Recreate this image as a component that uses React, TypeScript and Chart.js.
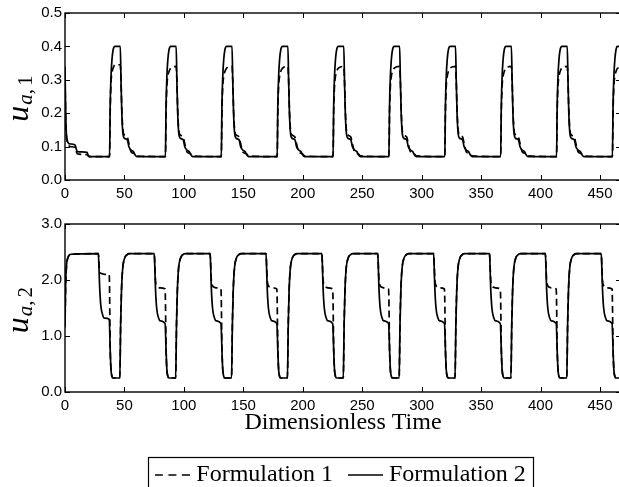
import React, { useEffect, useRef } from 'react';
import { Chart, registerables } from 'chart.js';

Chart.register(...registerables);

// ---------- data ----------
const X_MAX = 467.7;
const X_STEP = 50;
const SERIES_LABELS = ['Formulation 1', 'Formulation 2'];
const X_TITLE = 'Dimensionless Time';
const TOP_Y_LABEL = ['u', 'a', ',', '1'];
const BOTTOM_Y_LABEL = ['u', 'a', ',', '2'];
const TOP_Y_RANGE = [0, 0.5, 0.1];
const BOTTOM_Y_RANGE = [0, 3, 1];

// top panel (u_a,1)
const TOP_T = [
  0, 0.5, 1, 2, 3, 4, 8.5, 9.5, 10.5, 18.5, 19.5, 21,
  37.5, 38, 38.7, 39.5, 40.5, 42, 46.5, 47.1, 47.8, 48.7, 50, 52.5, 53.7, 55.5, 57.5, 59, 60.5,
  84.5, 85, 85.7, 86.5, 87.5, 89, 93.5, 94.1, 94.8, 95.7, 97, 99.5, 100.7, 102.5, 104.5, 106, 107.5,
  131.5, 132, 132.7, 133.5, 134.5, 136, 140.5, 141.1, 141.8, 142.7, 144, 146.5, 147.7, 149.5, 151.5, 153, 154.5,
  178.5, 179, 179.7, 180.5, 181.5, 183, 187.5, 188.1, 188.8, 189.7, 191, 193.5, 194.7, 196.5, 198.5, 200, 201.5,
  225.5, 226, 226.7, 227.5, 228.5, 230, 234.5, 235.1, 235.8, 236.7, 238, 240.5, 241.7, 243.5, 245.5, 247, 248.5,
  272.5, 273, 273.7, 274.5, 275.5, 277, 281.5, 282.1, 282.8, 283.7, 285, 287.5, 288.7, 290.5, 292.5, 294, 295.5,
  319.5, 320, 320.7, 321.5, 322.5, 324, 328.5, 329.1, 329.8, 330.7, 332, 334.5, 335.7, 337.5, 339.5, 341, 342.5,
  366.5, 367, 367.7, 368.5, 369.5, 371, 375.5, 376.1, 376.8, 377.7, 379, 381.5, 382.7, 384.5, 386.5, 388, 389.5,
  413.5, 414, 414.7, 415.5, 416.5, 418, 422.5, 423.1, 423.8, 424.7, 426, 428.5, 429.7, 431.5, 433.5, 435, 436.5,
  460.5, 461, 461.7, 462.5, 463.5, 465, 468,
];
const TOP_F2 = [
  0.34, 0.22, 0.15, 0.118, 0.11, 0.108, 0.105, 0.092, 0.085, 0.083, 0.074, 0.07,
  0.07, 0.22, 0.31, 0.36, 0.39, 0.4, 0.4, 0.3, 0.2, 0.14, 0.125, 0.12, 0.1, 0.09, 0.085, 0.075, 0.07,
  0.07, 0.22, 0.31, 0.36, 0.39, 0.4, 0.4, 0.3, 0.2, 0.14, 0.125, 0.12, 0.1, 0.09, 0.085, 0.075, 0.07,
  0.07, 0.22, 0.31, 0.36, 0.39, 0.4, 0.4, 0.3, 0.2, 0.14, 0.125, 0.12, 0.1, 0.09, 0.085, 0.075, 0.07,
  0.07, 0.22, 0.31, 0.36, 0.39, 0.4, 0.4, 0.3, 0.2, 0.14, 0.125, 0.12, 0.1, 0.09, 0.085, 0.075, 0.07,
  0.07, 0.22, 0.31, 0.36, 0.39, 0.4, 0.4, 0.3, 0.2, 0.14, 0.125, 0.12, 0.1, 0.09, 0.085, 0.075, 0.07,
  0.07, 0.22, 0.31, 0.36, 0.39, 0.4, 0.4, 0.3, 0.2, 0.14, 0.125, 0.12, 0.1, 0.09, 0.085, 0.075, 0.07,
  0.07, 0.22, 0.31, 0.36, 0.39, 0.4, 0.4, 0.3, 0.2, 0.14, 0.125, 0.12, 0.1, 0.09, 0.085, 0.075, 0.07,
  0.07, 0.22, 0.31, 0.36, 0.39, 0.4, 0.4, 0.3, 0.2, 0.14, 0.125, 0.12, 0.1, 0.09, 0.085, 0.075, 0.07,
  0.07, 0.22, 0.31, 0.36, 0.39, 0.4, 0.4, 0.3, 0.2, 0.14, 0.125, 0.12, 0.1, 0.09, 0.085, 0.075, 0.07,
  0.07, 0.22, 0.31, 0.36, 0.39, 0.4, 0.4,
];
const TOP_F1 = [
  0.3, 0.2, 0.14, 0.112, 0.105, 0.1, 0.098, 0.085, 0.078, 0.076, 0.072, 0.07,
  0.07, 0.2, 0.29, 0.32, 0.335, 0.345, 0.345, 0.3, 0.21, 0.15, 0.135, 0.128, 0.11, 0.085, 0.08, 0.077, 0.072,
  0.07, 0.2, 0.28, 0.31, 0.325, 0.335, 0.34, 0.3, 0.21, 0.15, 0.135, 0.128, 0.11, 0.085, 0.08, 0.077, 0.072,
  0.07, 0.2, 0.28, 0.31, 0.325, 0.335, 0.34, 0.3, 0.21, 0.15, 0.135, 0.128, 0.11, 0.085, 0.08, 0.077, 0.072,
  0.07, 0.2, 0.28, 0.31, 0.325, 0.335, 0.34, 0.3, 0.21, 0.15, 0.135, 0.128, 0.11, 0.085, 0.08, 0.077, 0.072,
  0.07, 0.2, 0.28, 0.31, 0.325, 0.335, 0.34, 0.3, 0.21, 0.15, 0.135, 0.128, 0.11, 0.085, 0.08, 0.077, 0.072,
  0.07, 0.2, 0.28, 0.31, 0.325, 0.335, 0.34, 0.3, 0.21, 0.15, 0.135, 0.128, 0.11, 0.085, 0.08, 0.077, 0.072,
  0.07, 0.2, 0.28, 0.31, 0.325, 0.335, 0.34, 0.3, 0.21, 0.15, 0.135, 0.128, 0.11, 0.085, 0.08, 0.077, 0.072,
  0.07, 0.2, 0.28, 0.31, 0.325, 0.335, 0.34, 0.3, 0.21, 0.15, 0.135, 0.128, 0.11, 0.085, 0.08, 0.077, 0.072,
  0.07, 0.2, 0.28, 0.31, 0.325, 0.335, 0.34, 0.3, 0.21, 0.15, 0.135, 0.128, 0.11, 0.085, 0.08, 0.077, 0.072,
  0.07, 0.2, 0.28, 0.31, 0.325, 0.335, 0.335,
];

// bottom panel (u_a,2)
const BOT_T = [
  0, 0.5, 1.2, 2.5, 5,
  28.1, 28.6, 29.1, 30.1, 31.6, 33.1, 37.2, 38.1, 38.7, 39.5, 40.5, 46.1, 46.8, 47.5, 48.5, 50, 52, 54.5,
  75.1, 75.6, 76.1, 77.1, 78.6, 80.1, 84.2, 85.1, 85.7, 86.5, 87.5, 93.1, 93.8, 94.5, 95.5, 97, 99, 101.5,
  122.1, 122.6, 123.1, 124.1, 125.6, 127.1, 131.2, 132.1, 132.7, 133.5, 134.5, 140.1, 140.8, 141.5, 142.5, 144, 146, 148.5,
  169.1, 169.6, 170.1, 171.1, 172.6, 174.1, 178.2, 179.1, 179.7, 180.5, 181.5, 187.1, 187.8, 188.5, 189.5, 191, 193, 195.5,
  216.1, 216.6, 217.1, 218.1, 219.6, 221.1, 225.2, 226.1, 226.7, 227.5, 228.5, 234.1, 234.8, 235.5, 236.5, 238, 240, 242.5,
  263.1, 263.6, 264.1, 265.1, 266.6, 268.1, 272.2, 273.1, 273.7, 274.5, 275.5, 281.1, 281.8, 282.5, 283.5, 285, 287, 289.5,
  310.1, 310.6, 311.1, 312.1, 313.6, 315.1, 319.2, 320.1, 320.7, 321.5, 322.5, 328.1, 328.8, 329.5, 330.5, 332, 334, 336.5,
  357.1, 357.6, 358.1, 359.1, 360.6, 362.1, 366.2, 367.1, 367.7, 368.5, 369.5, 375.1, 375.8, 376.5, 377.5, 379, 381, 383.5,
  404.1, 404.6, 405.1, 406.1, 407.6, 409.1, 413.2, 414.1, 414.7, 415.5, 416.5, 422.1, 422.8, 423.5, 424.5, 426, 428, 430.5,
  451.1, 451.6, 452.1, 453.1, 454.6, 456.1, 460.2, 461.1, 461.7, 462.5, 463.5, 468,
];
const BOT_F2 = [
  1.2, 1.9, 2.25, 2.4, 2.46,
  2.47, 2.2, 1.9, 1.55, 1.38, 1.32, 1.3, 0.7, 0.4, 0.28, 0.25, 0.25, 1.2, 1.8, 2.2, 2.38, 2.45, 2.47,
  2.47, 2.2, 1.85, 1.5, 1.33, 1.27, 1.22, 0.7, 0.4, 0.28, 0.25, 0.25, 1.2, 1.8, 2.2, 2.38, 2.45, 2.47,
  2.47, 2.2, 1.85, 1.5, 1.33, 1.27, 1.22, 0.7, 0.4, 0.28, 0.25, 0.25, 1.2, 1.8, 2.2, 2.38, 2.45, 2.47,
  2.47, 2.2, 1.85, 1.5, 1.33, 1.27, 1.22, 0.7, 0.4, 0.28, 0.25, 0.25, 1.2, 1.8, 2.2, 2.38, 2.45, 2.47,
  2.47, 2.2, 1.85, 1.5, 1.33, 1.27, 1.22, 0.7, 0.4, 0.28, 0.25, 0.25, 1.2, 1.8, 2.2, 2.38, 2.45, 2.47,
  2.47, 2.2, 1.85, 1.5, 1.33, 1.27, 1.22, 0.7, 0.4, 0.28, 0.25, 0.25, 1.2, 1.8, 2.2, 2.38, 2.45, 2.47,
  2.47, 2.2, 1.85, 1.5, 1.33, 1.27, 1.22, 0.7, 0.4, 0.28, 0.25, 0.25, 1.2, 1.8, 2.2, 2.38, 2.45, 2.47,
  2.47, 2.2, 1.85, 1.5, 1.33, 1.27, 1.22, 0.7, 0.4, 0.28, 0.25, 0.25, 1.2, 1.8, 2.2, 2.38, 2.45, 2.47,
  2.47, 2.2, 1.85, 1.5, 1.33, 1.27, 1.22, 0.7, 0.4, 0.28, 0.25, 0.25, 1.2, 1.8, 2.2, 2.38, 2.45, 2.47,
  2.47, 2.2, 1.85, 1.5, 1.33, 1.27, 1.22, 0.7, 0.4, 0.28, 0.25, 0.25,
];
const BOT_F1 = [
  1.15, 1.85, 2.22, 2.4, 2.46,
  2.47, 2.3, 2.15, 2.12, 2.11, 2.1, 2.1, 0.7, 0.4, 0.28, 0.25, 0.25, 1.2, 1.8, 2.2, 2.38, 2.45, 2.47,
  2.47, 2.25, 2.0, 1.9, 1.87, 1.86, 1.84, 0.7, 0.4, 0.28, 0.25, 0.25, 1.2, 1.8, 2.2, 2.38, 2.45, 2.47,
  2.47, 2.25, 2.0, 1.9, 1.87, 1.86, 1.84, 0.7, 0.4, 0.28, 0.25, 0.25, 1.2, 1.8, 2.2, 2.38, 2.45, 2.47,
  2.47, 2.25, 2.0, 1.9, 1.87, 1.86, 1.84, 0.7, 0.4, 0.28, 0.25, 0.25, 1.2, 1.8, 2.2, 2.38, 2.45, 2.47,
  2.47, 2.25, 2.0, 1.9, 1.87, 1.86, 1.84, 0.7, 0.4, 0.28, 0.25, 0.25, 1.2, 1.8, 2.2, 2.38, 2.45, 2.47,
  2.47, 2.25, 2.0, 1.9, 1.87, 1.86, 1.84, 0.7, 0.4, 0.28, 0.25, 0.25, 1.2, 1.8, 2.2, 2.38, 2.45, 2.47,
  2.47, 2.25, 2.0, 1.9, 1.87, 1.86, 1.84, 0.7, 0.4, 0.28, 0.25, 0.25, 1.2, 1.8, 2.2, 2.38, 2.45, 2.47,
  2.47, 2.25, 2.0, 1.9, 1.87, 1.86, 1.84, 0.7, 0.4, 0.28, 0.25, 0.25, 1.2, 1.8, 2.2, 2.38, 2.45, 2.47,
  2.47, 2.25, 2.0, 1.9, 1.87, 1.86, 1.84, 0.7, 0.4, 0.28, 0.25, 0.25, 1.2, 1.8, 2.2, 2.38, 2.45, 2.47,
  2.47, 2.25, 2.0, 1.9, 1.87, 1.86, 1.84, 0.7, 0.4, 0.28, 0.25, 0.25,
];

// ---------- styling ----------
const SANS = '"Liberation Sans", Arial, sans-serif';
const SERIF = '"Liberation Serif", "Times New Roman", serif';
const DASH = [7, 4];
const LEGEND_DASH = [8, 5.5];

// legend line sample drawn as an image point style
function makeSample(dashed: boolean): HTMLCanvasElement {
  const c = document.createElement('canvas');
  c.width = 35;
  c.height = 4;
  const g = c.getContext('2d') as CanvasRenderingContext2D;
  g.strokeStyle = '#000';
  g.lineWidth = 1.5;
  g.setLineDash(dashed ? LEGEND_DASH : []);
  g.beginPath();
  g.moveTo(0, 2);
  g.lineTo(35, 2);
  g.stroke();
  return c;
}

const framePlugin = {
  id: 'frame',
  afterDatasetsDraw(chart: any, _args: any, opts: any) {
    const { ctx, chartArea: a, scales } = chart;
    const xs = scales.x;
    const ys = scales.y;
    ctx.save();
    ctx.strokeStyle = '#000';
    ctx.lineWidth = 1.4;
    ctx.strokeRect(a.left, a.top, a.right - a.left, a.bottom - a.top);
    const L = 5;
    ctx.beginPath();
    xs.ticks.forEach((t: any) => {
      const p = Math.round(xs.getPixelForValue(t.value)) + 0.5;
      ctx.moveTo(p, a.bottom);
      ctx.lineTo(p, a.bottom - L);
      ctx.moveTo(p, a.top);
      ctx.lineTo(p, a.top + L);
    });
    ys.ticks.forEach((t: any) => {
      const p = Math.round(ys.getPixelForValue(t.value)) + 0.5;
      ctx.moveTo(a.left, p);
      ctx.lineTo(a.left + L, p);
      ctx.moveTo(a.right, p);
      ctx.lineTo(a.right - L, p);
    });
    ctx.lineWidth = 1;
    ctx.stroke();

    // y-axis label with subscript
    const lab: string[] = opts.label;
    if (lab) {
      const cy = (a.top + a.bottom) / 2 + 2;
      ctx.translate(28, cy);
      ctx.rotate(-Math.PI / 2);
      ctx.fillStyle = '#000';
      ctx.textBaseline = 'alphabetic';
      ctx.textAlign = 'left';
      const fMain = 'italic 32px ' + SERIF;
      const fSubI = 'italic 21px ' + SERIF;
      const fSub = '21px ' + SERIF;
      ctx.font = fMain;
      const w0 = ctx.measureText(lab[0]).width;
      ctx.font = fSubI;
      const w1 = ctx.measureText(lab[1]).width;
      ctx.font = fSub;
      const w2 = ctx.measureText(lab[2]).width;
      const w3 = ctx.measureText(lab[3]).width;
      const gap = 3;
      const total = w0 + 1 + w1 + w2 + gap + w3;
      let x = -total / 2;
      ctx.font = fMain;
      ctx.fillText(lab[0], x, 0);
      x += w0 + 1;
      ctx.font = fSubI;
      ctx.fillText(lab[1], x, 4);
      x += w1;
      ctx.font = fSub;
      ctx.fillText(lab[2], x, 4);
      x += w2 + gap;
      ctx.fillText(lab[3], x, 4);
    }
    ctx.restore();
  },
  afterDraw(chart: any) {
    const lg = chart.legend;
    if (!lg || !lg.options.display || !lg.legendHitBoxes || !lg.legendHitBoxes.length) return;
    const hb = lg.legendHitBoxes;
    const first = hb[0];
    const last = hb[hb.length - 1];
    const cy = first.top + first.height / 2;
    const ctx = chart.ctx;
    ctx.save();
    ctx.strokeStyle = '#000';
    ctx.lineWidth = 1.2;
    const left = first.left - 12.5;
    const right = last.left + last.width + 7;
    ctx.strokeRect(Math.round(left) + 0.5, Math.round(cy - 18.5) + 0.5, Math.round(right - left), 40);
    ctx.restore();
  },
};

function makeDataset(label: string, t: number[], v: number[], dashed: boolean) {
  return {
    label,
    data: t.map((x, i) => ({ x, y: v[i] })),
    borderColor: '#000',
    backgroundColor: '#000',
    borderWidth: 1.7,
    borderDash: dashed ? DASH : [],
    pointRadius: 0,
    pointStyle: makeSample(dashed),
    fill: false,
    cubicInterpolationMode: 'monotone' as const,
  };
}

function makeConfig(
  t: number[], f1: number[], f2: number[], yr: number[], label: string[],
  padTop: number, xHeight: number, showBottomExtras: boolean,
): any {
  return {
    type: 'line',
    data: {
      datasets: [
        makeDataset(SERIES_LABELS[0], t, f1, true),
        makeDataset(SERIES_LABELS[1], t, f2, false),
      ],
    },
    options: {
      animation: false,
      responsive: false,
      events: [],
      layout: { padding: { top: padTop, right: 1, left: 0, bottom: 0 } },
      scales: {
        x: {
          type: 'linear',
          min: 0,
          max: X_MAX,
          grid: { display: false, drawTicks: false },
          border: { display: false },
          ticks: {
            stepSize: X_STEP,
            includeBounds: false,
            autoSkip: false,
            maxRotation: 0,
            padding: 5,
            color: '#000',
            font: { family: SANS, size: 15 },
            callback: (v: any) => String(v),
          },
          title: showBottomExtras
            ? { display: true, text: X_TITLE, color: '#000', font: { family: SERIF, size: 24 }, padding: { top: 0, bottom: 6 } }
            : { display: false },
          afterFit: (s: any) => { s.height = xHeight; },
        },
        y: {
          type: 'linear',
          min: yr[0],
          max: yr[1],
          grid: { display: false, drawTicks: false },
          border: { display: false },
          ticks: {
            stepSize: yr[2],
            padding: 3,
            color: '#000',
            font: { family: SANS, size: 15 },
            callback: (v: any) => Number(v).toFixed(1),
          },
          afterFit: (s: any) => { s.width = 65; },
        },
      },
      plugins: {
        title: { display: false },
        tooltip: { enabled: false },
        legend: showBottomExtras
          ? {
              display: true,
              position: 'bottom',
              fullSize: false,
              labels: {
                usePointStyle: true,
                boxWidth: 24,
                boxHeight: 24,
                padding: 20,
                color: '#000',
                font: { family: SERIF, size: 24 },
              },
            }
          : { display: false },
        frame: { label },
      },
    },
    plugins: [framePlugin],
  };
}

export default function App() {
  const topRef = useRef<HTMLCanvasElement>(null);
  const botRef = useRef<HTMLCanvasElement>(null);

  useEffect(() => {
    const c1 = new Chart(topRef.current as HTMLCanvasElement,
      makeConfig(TOP_T, TOP_F1, TOP_F2, TOP_Y_RANGE, TOP_Y_LABEL, 13, 20, false));
    const c2 = new Chart(botRef.current as HTMLCanvasElement,
      makeConfig(BOT_T, BOT_F1, BOT_F2, BOTTOM_Y_RANGE, BOTTOM_Y_LABEL, 24, 51, true));
    return () => { c1.destroy(); c2.destroy(); };
  }, []);

  return (
    <div style={{ position: 'absolute', left: 0, top: 0, width: 619, height: 487, overflow: 'hidden', background: '#fff' }}>
      <canvas ref={topRef} width={622} height={200} style={{ position: 'absolute', left: 0, top: 0 }} />
      <canvas ref={botRef} width={622} height={297} style={{ position: 'absolute', left: 0, top: 200 }} />
    </div>
  );
}
